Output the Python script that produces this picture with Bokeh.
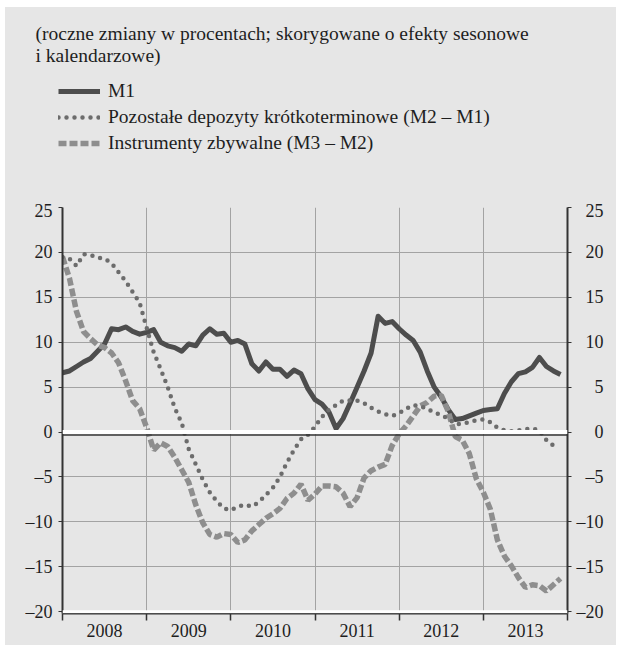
import pandas as pd
from bokeh.plotting import figure
from bokeh.layouts import column, row
from bokeh.models import (Range1d, LinearAxis, FixedTicker, Span, Label,
                          Legend, LegendItem, Spacer)
from bokeh.embed import file_html
from bokeh.resources import INLINE

# ---------------- data ----------------
months = pd.period_range("2008-01", periods=72, freq="M")
t = [p.year + (p.month - 1) / 12 for p in months]

m1 = [6.6, 6.8, 7.3, 7.8, 8.2, 9.0, 9.8, 11.5, 11.4, 11.7, 11.2, 10.9,
      11.1, 11.4, 10.0, 9.6, 9.4, 9.0, 9.8, 9.6, 10.8, 11.5, 10.9, 11.0,
      10.0, 10.2, 9.8, 7.6, 6.8, 7.8, 7.0, 7.0, 6.2, 6.9, 6.5, 4.8,
      3.6, 3.1, 2.2, 0.4, 1.5, 3.2, 5.0, 6.8, 8.8, 12.9, 12.1, 12.3,
      11.5, 10.8, 10.2, 8.9, 6.8, 5.0, 3.9, 2.5, 1.4, 1.5, 1.8, 2.1,
      2.4, 2.5, 2.6, 4.3, 5.6, 6.5, 6.7, 7.2, 8.3, 7.3, 6.8, 6.4]

m2_m1 = [19.5, 19.3, 18.5, 19.8, 19.7, 19.4, 19.3, 18.8, 17.8, 16.8, 15.6, 14.4,
         11.6, 8.9, 7.0, 5.0, 2.7, 1.0, -1.9, -3.6, -5.3, -6.7, -7.7, -8.5,
         -8.7, -8.3, -8.1, -8.3, -7.8, -7.0, -6.2, -5.0, -3.4, -2.0, -0.8, -0.3,
         0.6, 1.7, 2.5, 3.0, 3.5, 3.5, 3.5, 3.2, 2.7, 2.3, 2.0, 1.8,
         2.1, 2.6, 3.0, 2.9, 2.6, 2.2, 1.9, 1.5, 0.9, 0.9, 1.1, 1.3,
         1.4, 1.1, 0.5, 0.2, 0.1, 0.2, 0.3, 0.4, 0.2, -0.9, -1.5]

m3_m2 = [19.5, 17.1, 13.4, 11.2, 10.4, 9.7, 9.4, 8.8, 7.7, 5.7, 3.5, 2.6,
         0.5, -2.0, -1.2, -1.6, -2.8, -4.2, -5.6, -8.1, -10.1, -11.4, -11.7, -11.3,
         -11.4, -12.3, -12.0, -11.0, -10.3, -9.6, -9.1, -8.5, -7.4, -6.8, -5.8, -7.6,
         -6.9, -6.0, -6.0, -6.1, -6.8, -8.3, -7.3, -5.1, -4.3, -3.9, -3.6, -1.5,
         -0.2, 0.7, 1.8, 2.9, 3.3, 4.0, 4.1, 2.3, -0.5, -0.9, -2.4, -5.2,
         -6.7, -8.6, -12.0, -13.8, -14.9, -16.2, -17.3, -17.0, -17.1, -17.7, -17.0, -16.3]

years = [2008, 2009, 2010, 2011, 2012, 2013]
year_labels = ["2008", "2009", "2010", "2011", "2012", "2013"]
y_ticks = [-20, -15, -10, -5, 0, 5, 10, 15, 20, 25]
y_labels = ["–20", "–15", "–10", "–5", "0", "5", "10", "15", "20", "25"]

subtitle_1 = "(roczne zmiany w procentach; skorygowane o efekty sesonowe"
subtitle_2 = "i kalendarzowe)"
series_names = ["M1", "Pozostałe depozyty krótkoterminowe (M2 – M1)",
                "Instrumenty zbywalne (M3 – M2)"]

# ---------------- style ----------------
BG = "#e6e6e6"
GRID = "#a3a3a3"
AX = "#333333"
TXT = "#1e1e1e"
SERIF = "Liberation Serif"
FRAME_H = 406
TOP_PAD, BOT_PAD = 7, 32

S_M1 = dict(line_color="#4d4d4d", line_width=5, line_join="round")
S_M21 = dict(line_color="#6c6c6c", line_width=4.5, line_dash="0 8", line_cap="round")
S_M32 = dict(line_color="#8e8e8e", line_width=5.5, line_dash="8 3")

# ---------------- main chart ----------------
p = figure(frame_width=505, frame_height=FRAME_H,
           min_border_left=57, min_border_right=6,
           min_border_top=TOP_PAD, min_border_bottom=BOT_PAD,
           x_range=Range1d(2008, 2014), y_range=Range1d(-20.2, 25),
           output_backend="svg", toolbar_location=None,
           background_fill_color=BG, border_fill_color=BG)
p.outline_line_color = None

p.xgrid.ticker = FixedTicker(ticks=years[1:])
p.ygrid.ticker = FixedTicker(ticks=y_ticks)
for g in (p.xgrid[0], p.ygrid[0]):
    g.grid_line_color = GRID
    g.grid_line_width = 1

xa = p.xaxis[0]
xa.ticker = FixedTicker(ticks=[y + 0.5 for y in years],
                        minor_ticks=years + [years[-1] + 1])
xa.major_label_overrides = {y + 0.5: lab for y, lab in zip(years, year_labels)}
xa.major_tick_out = 0
xa.major_tick_in = 0
xa.minor_tick_out = 7
xa.minor_tick_in = 0
xa.minor_tick_line_color = AX
xa.minor_tick_line_width = 1.5
xa.axis_line_color = AX
xa.axis_line_width = 2
xa.major_label_text_font = SERIF
xa.major_label_text_font_size = "18px"
xa.major_label_text_color = TXT
xa.major_label_standoff = 3


def style_y(ax, labels, standoff, tick_out=4):
    ax.ticker = FixedTicker(ticks=y_ticks)
    ax.major_label_overrides = dict(zip(y_ticks, labels))
    ax.major_tick_out = tick_out
    ax.major_tick_in = 0
    ax.minor_tick_out = 0
    ax.minor_tick_in = 0
    ax.major_tick_line_color = AX
    ax.major_tick_line_width = 1.2
    ax.axis_line_color = AX
    ax.axis_line_width = 2
    ax.major_label_text_font = SERIF
    ax.major_label_text_font_size = "18px"
    ax.major_label_text_color = TXT
    ax.major_label_standoff = standoff


style_y(p.yaxis[0], y_labels, 6)
ra = LinearAxis()
style_y(ra, [""] * len(y_ticks), 0)
p.add_layout(ra, "right")

p.add_layout(Span(location=0, dimension="width", line_color="white", line_width=4))
p.add_layout(Span(location=-0.33, dimension="width", line_color=AX, line_width=1.6))
p.add_layout(Span(location=-20, dimension="width", line_color="white", line_width=3))

p.line(t, m1, **S_M1)
p.line(t, m3_m2, **S_M32)
p.line(t[:len(m2_m1)], m2_m1, **S_M21)

# ---------------- right-hand tick labels (right aligned) ----------------
rf = figure(frame_width=3, frame_height=FRAME_H,
            min_border_left=36, min_border_right=0,
            min_border_top=TOP_PAD, min_border_bottom=BOT_PAD,
            x_range=Range1d(0, 1), y_range=p.y_range, x_axis_type=None,
            output_backend="svg", toolbar_location=None,
            background_fill_color=BG, border_fill_color=BG)
rf.outline_line_color = None
rf.ygrid.visible = False
style_y(rf.yaxis[0], y_labels, 10, tick_out=0)
rf.yaxis[0].axis_line_color = None

# ---------------- header: subtitle and legend ----------------
top = figure(frame_width=607, frame_height=193,
             min_border_left=0, min_border_right=0,
             min_border_top=0, min_border_bottom=0,
             x_range=Range1d(5, 612), y_range=Range1d(200, 7),
             x_axis_type=None, y_axis_type=None,
             output_backend="svg", toolbar_location=None,
             background_fill_color=BG, border_fill_color=BG)
top.outline_line_color = None
top.xgrid.visible = False
top.ygrid.visible = False

for txt, yb in ((subtitle_1, 33.3), (subtitle_2, 55.3)):
    top.add_layout(Label(x=35, y=yb, text=txt, text_font=SERIF,
                         text_font_size="19.5px", text_color=TXT,
                         text_baseline="alphabetic"))

# legend key renderers: the same series, lying outside this panel's view
k1 = top.line(t, m1, **S_M1)
k2 = top.line(t[:len(m2_m1)], m2_m1, **S_M21)
k3 = top.line(t, m3_m2, **S_M32)
legend = Legend(items=[LegendItem(label=series_names[0], renderers=[k1]),
                       LegendItem(label=series_names[1], renderers=[k2]),
                       LegendItem(label=series_names[2], renderers=[k3])],
                location=(53, 46), padding=0, margin=0, spacing=4,
                glyph_width=42, glyph_height=22, label_height=22,
                label_standoff=8, border_line_color=None,
                background_fill_alpha=0,
                label_text_font=SERIF, label_text_font_size="19.5px",
                label_text_color=TXT)
top.add_layout(legend)

bg_style = {"background-color": BG}
chart_row = row(p, rf, spacing=0, styles=bg_style)
body = column(top, chart_row, spacing=0, styles=bg_style)
layout = column(Spacer(height=7), row(Spacer(width=5), body, spacing=0), spacing=0)

open("out.html", "w").write(file_html(layout, INLINE))
